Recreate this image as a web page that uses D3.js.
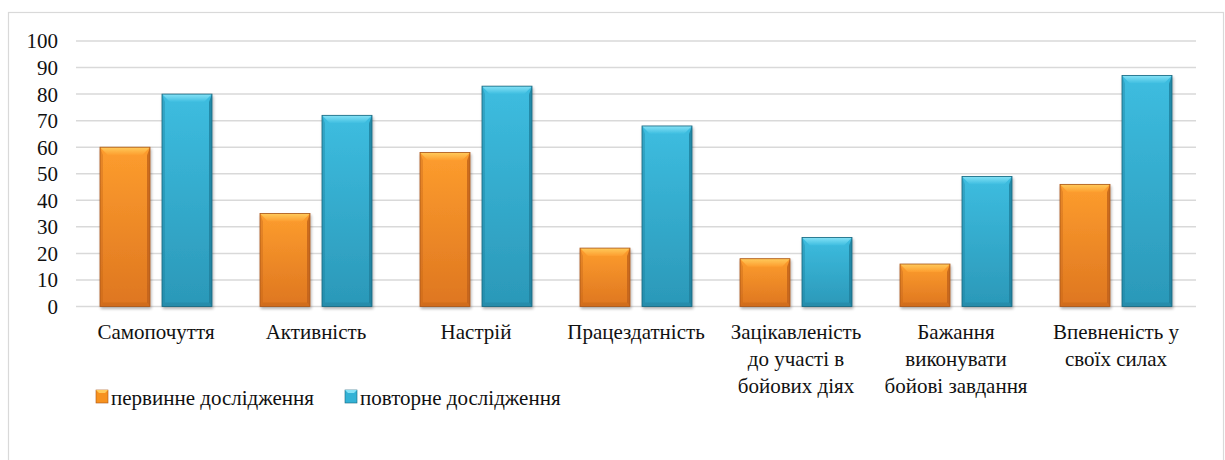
<!DOCTYPE html>
<html>
<head>
<meta charset="utf-8">
<script src="https://cdn.jsdelivr.net/npm/d3@7"></script>
<style>
  html, body { margin: 0; padding: 0; background: #fff; }
  svg { display: block; }
  #chart text, #chart tspan { font-family: "Liberation Serif", "Times New Roman", serif !important; }
</style>
</head>
<body>
<svg id="chart" width="1225" height="460"></svg>
<script>
// Categories (multi-line labels split with \n)
const categories = [
  "Самопочуття",
  "Активність",
  "Настрій",
  "Працездатність",
  "Зацікавленість\nдо участі в\nбойових діях",
  "Бажання\nвиконувати\nбойові завдання",
  "Впевненість у\nсвоїх силах"
];
const seriesNames = ["первинне дослідження", "повторне дослідження"];
const primaryValues = [60, 35, 58, 22, 18, 16, 46];
const repeatValues  = [80, 72, 83, 68, 26, 49, 87];
const yTicks = [0, 10, 20, 30, 40, 50, 60, 70, 80, 90, 100];

const FONT = "Liberation Serif";
const FS = 21;
const svg = d3.select("#chart");
const plot = { left: 76, right: 1196, top: 41, bottom: 306.5 };

// serif text helper: attribute plus inline style
function serif(sel) {
  return sel.attr("font-family", FONT).attr("font-size", FS).attr("fill", "#111")
    .attr("style", `font-family: "${FONT}", "Times New Roman", serif !important; font-size: ${FS}px;`);
}

// chart frame
svg.append("rect")
  .attr("x", 8.5).attr("y", 12.5)
  .attr("width", 1215).attr("height", 470)
  .attr("fill", "#fff").attr("stroke", "#d9d9d9").attr("stroke-width", 1.2);

const x0 = d3.scaleBand().domain(d3.range(categories.length))
  .range([plot.left, plot.right]).paddingInner(0).paddingOuter(0);
const y = d3.scaleLinear().domain([0, 100]).range([plot.bottom, plot.top]);

// gridlines
svg.append("g").selectAll("line").data(yTicks).join("line")
  .attr("x1", plot.left).attr("x2", plot.right)
  .attr("y1", d => y(d)).attr("y2", d => y(d))
  .attr("stroke", "#d9d9d9").attr("stroke-width", 1.5);

// y axis labels
const yAxis = d3.axisLeft(y).tickValues(yTicks).tickSize(0).tickPadding(0);
const gy = svg.append("g").attr("transform", `translate(${plot.left - 18},0)`).call(yAxis);
gy.attr("font-family", FONT).attr("font-size", FS);
gy.select(".domain").remove();
serif(gy.selectAll("text")).attr("dy", "0.33em");

// palette per series
const palettes = [
  { main: "#f7921f", light: "#ffcb5c", mid: "#fd9d2e", low: "#de7620", dark: "#c0621a", edge: "#a9561a" },
  { main: "#33b2d6", light: "#86e2f6", mid: "#3dbde0", low: "#2b98b8", dark: "#1e7e9b", edge: "#17657d" }
];

const defs = svg.append("defs");
palettes.forEach((p, i) => {
  const g = defs.append("linearGradient").attr("id", "body" + i)
    .attr("x1", 0).attr("y1", 0).attr("x2", 0).attr("y2", 1);
  g.append("stop").attr("offset", "0%").attr("stop-color", p.mid);
  g.append("stop").attr("offset", "100%").attr("stop-color", p.low);
  const t = defs.append("linearGradient").attr("id", "top" + i)
    .attr("x1", 0).attr("y1", 0).attr("x2", 0).attr("y2", 1);
  t.append("stop").attr("offset", "0%").attr("stop-color", p.light);
  t.append("stop").attr("offset", "100%").attr("stop-color", p.mid);
});
const shadow = defs.append("filter").attr("id", "shadow")
  .attr("x", "-20%").attr("y", "-10%").attr("width", "140%").attr("height", "130%");
shadow.append("feGaussianBlur").attr("in", "SourceAlpha").attr("stdDeviation", 1.5).attr("result", "b");
shadow.append("feOffset").attr("dx", 1).attr("dy", 2).attr("result", "o");
shadow.append("feComponentTransfer").append("feFuncA").attr("type", "linear").attr("slope", 0.3);
const merge = shadow.append("feMerge");
merge.append("feMergeNode");
merge.append("feMergeNode").attr("in", "SourceGraphic");

// two bars of width 50 with a 12px gap, centred in each 160px category band
const x1 = d3.scaleBand().domain([0, 1]).range([24, x0.bandwidth() - 24]).paddingInner(12 / 62).paddingOuter(0);

function drawBar(g, bx, by, w, h, p, i) {
  const b = Math.min(8, h / 2);
  const s = 3;
  const grp = g.append("g").attr("filter", "url(#shadow)");
  grp.append("rect").attr("x", bx).attr("y", by).attr("width", w).attr("height", h)
    .attr("fill", `url(#body${i})`);
  // top bevel
  grp.append("path").attr("d", `M${bx},${by}L${bx + w},${by}L${bx + w - b},${by + b}L${bx + b},${by + b}Z`)
    .attr("fill", `url(#top${i})`);
  // bottom bevel
  grp.append("path").attr("d", `M${bx},${by + h}L${bx + w},${by + h}L${bx + w - s},${by + h - 4}L${bx + s},${by + h - 4}Z`)
    .attr("fill", p.dark).attr("opacity", 0.45);
  // side strips
  grp.append("path").attr("d", `M${bx},${by}L${bx + s},${by + b}L${bx + s},${by + h - 4}L${bx},${by + h}Z`)
    .attr("fill", p.dark).attr("opacity", 0.35);
  grp.append("path").attr("d", `M${bx + w},${by}L${bx + w - s},${by + b}L${bx + w - s},${by + h - 4}L${bx + w},${by + h}Z`)
    .attr("fill", p.dark).attr("opacity", 0.8);
  grp.append("rect").attr("x", bx).attr("y", by).attr("width", w).attr("height", h)
    .attr("fill", "none").attr("stroke", p.edge).attr("stroke-width", 0.8);
}

const bars = svg.append("g");
[primaryValues, repeatValues].forEach((vals, si) => {
  vals.forEach((v, ci) => {
    const bx = x0(ci) + x1(si);
    const by = y(v);
    drawBar(bars, bx, by, x1.bandwidth(), y(0) - by, palettes[si], si);
  });
});

// category labels
const xl = svg.append("g").attr("font-family", FONT).attr("font-size", FS);
categories.forEach((c, ci) => {
  const cx = x0(ci) + x0.bandwidth() / 2;
  const t = serif(xl.append("text").attr("x", cx).attr("y", 339).attr("text-anchor", "middle"));
  c.split("\n").forEach((ln, li) => {
    t.append("tspan").attr("x", cx).attr("dy", li === 0 ? 0 : 27).text(ln);
  });
});

// legend
const legendX = [96, 345];
seriesNames.forEach((n, i) => {
  const g = svg.append("g").attr("transform", `translate(${legendX[i]},390)`);
  const p = palettes[i];
  g.append("rect").attr("width", 12).attr("height", 13).attr("fill", p.main).attr("stroke", p.edge).attr("stroke-width", 0.6);
  g.append("path").attr("d", "M0,0L12,0L9,3L3,3Z").attr("fill", p.light);
  serif(g.append("text").attr("x", 15).attr("y", 15)).text(n);
});
</script>
</body>
</html>
